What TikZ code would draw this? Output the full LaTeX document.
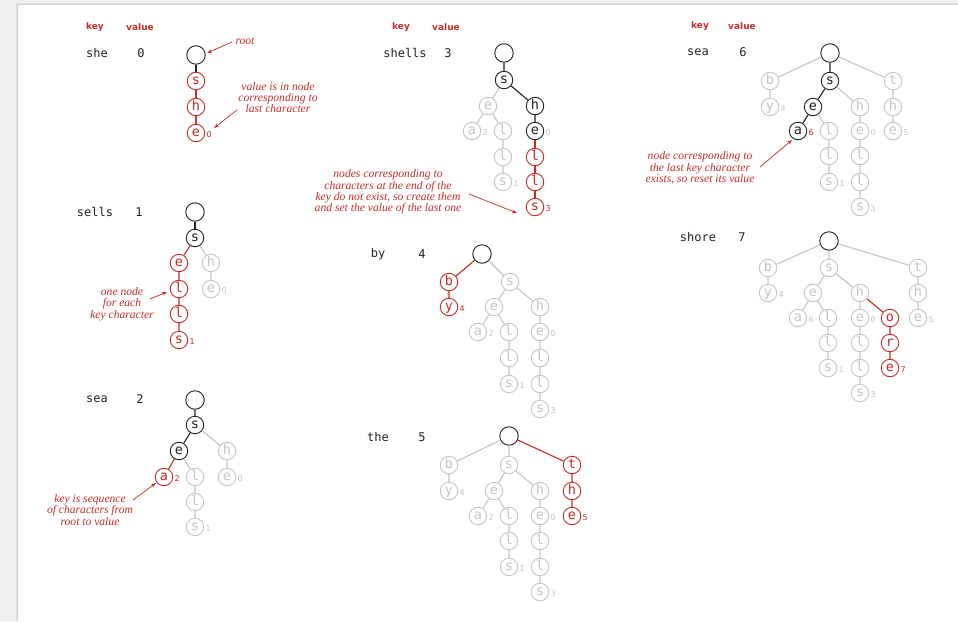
\documentclass[tikz,border=0pt]{standalone}
\usepackage{fontspec}
\setmainfont{Liberation Serif}
\newfontfamily\monof{DejaVu Sans Mono}
\newfontfamily\sansf{DejaVu Sans}
\usetikzlibrary{arrows.meta}
\definecolor{tred}{RGB}{200,45,40}
\definecolor{tgray}{RGB}{198,198,198}
\definecolor{tblk}{RGB}{35,35,35}
\definecolor{pagebg}{RGB}{240,240,240}
\definecolor{shadeA}{RGB}{226,226,226}
\definecolor{shadeB}{RGB}{210,210,210}
\tikzset{
 nd/.style={circle, minimum size=17.5pt, inner sep=0pt, line width=0.9pt, font=\monof\fontsize{13.5}{13.5}\selectfont, text height=7.3pt, text depth=0pt},
 nb/.style={nd, draw=tblk, text=tblk},
 ng/.style={nd, draw=tgray, text=tgray},
 nr/.style={nd, draw=tred, text=tred},
 rootnd/.style={circle, minimum size=18.5pt, inner sep=0pt, line width=0.9pt, draw=tblk},
 val/.style={inner sep=0pt, anchor=west, font=\sansf\fontsize{8}{8}\selectfont, text height=5.8pt, text depth=0pt},
 eb/.style={line width=1.1pt, draw=tblk},
 eg/.style={line width=1.1pt, draw=tgray},
 er/.style={line width=1.1pt, draw=tred},
 hdr/.style={font=\sansf\bfseries\fontsize{9}{9}\selectfont, text=tred, inner sep=0pt},
 keytxt/.style={font=\monof\fontsize{12}{12}\selectfont, text=tblk, inner sep=0pt},
 note/.style={font=\itshape\fontsize{11.6}{11.4}\selectfont, text=tred, align=center, inner sep=0pt},
 notearrow/.style={draw=tred, line width=0.7pt, -{Stealth[length=5pt,width=3.5pt]}},
}
\newcommand\trval{}
\renewcommand\trval[4]{\node[val,#1] (#2) at ([xshift=1.3pt,yshift=-1.2pt]#3.east) {#4};}
\begin{document}
\begin{tikzpicture}[x=1pt,y=-1pt]
\useasboundingbox (0,0) rectangle (958,621);
\fill[pagebg] (0,0) rectangle (958,621);
\fill[shadeA] (15.5,2.5) rectangle (958,621);
\fill[shadeB] (16.8,3.8) rectangle (958,621);
\fill[white] (18,5) rectangle (958,621);

% headers
\node[hdr] (hk1) at (95,27) {key};   \node[hdr] (hv1) at (140,27) {value};
\node[hdr] (hk2) at (401,27) {key};  \node[hdr] (hv2) at (446,27) {value};
\node[hdr] (hk3) at (700,26) {key};  \node[hdr] (hv3) at (742,26) {value};

% keys and values
\node[keytxt] (k1) at (97,53) {she};     \node[keytxt] (v1) at (141,53) {0};
\node[keytxt] (k2) at (95,212) {sells};  \node[keytxt] (v2) at (139,212) {1};
\node[keytxt] (k3) at (97,399) {sea};    \node[keytxt] (v3) at (140,399) {2};
\node[keytxt] (k4) at (405,53) {shells}; \node[keytxt] (v4) at (448,53) {3};
\node[keytxt] (k5) at (378,254) {by};    \node[keytxt] (v5) at (422,254) {4};
\node[keytxt] (k6) at (378,437) {the};   \node[keytxt] (v6) at (422,437) {5};
\node[keytxt] (k7) at (698,52) {sea};    \node[keytxt] (v7) at (743,52) {6};
\node[keytxt] (k8) at (698,237) {shore}; \node[keytxt] (v8) at (742,237) {7};

% ---- trie 1: she 0
\node[rootnd] (a0) at (196,55) {};
\node[nr] (a1) at (196,81) {s};
\node[nr] (a2) at (196,107) {h};
\node[nr] (a3) at (196,133) {e};
\trval{text=tred}{a3v}{a3}{0}
\draw[eb] (a0)--(a1);
\draw[er] (a1)--(a2) (a2)--(a3);

% ---- trie 2: sells 1
\node[rootnd] (b0) at (195,212) {};
\node[nb] (b1) at (195,238) {s};
\node[nr] (b2) at (179,263) {e};
\node[ng] (b3) at (211,263) {h};
\node[nr] (b4) at (179,289) {l};
\node[ng] (b5) at (211,289) {e};
\node[nr] (b6) at (179,314) {l};
\node[nr] (b7) at (179,340) {s};
\trval{text=tgray}{b5v}{b5}{0}
\trval{text=tred}{b7v}{b7}{1}
\draw[eb] (b0)--(b1);
\draw[er] (b1)--(b2) (b2)--(b4) (b4)--(b6) (b6)--(b7);
\draw[eg] (b1)--(b3) (b3)--(b5);

% ---- trie 3: sea 2
\node[rootnd] (c0) at (195,400) {};
\node[nb] (c1) at (195,425) {s};
\node[nb] (c2) at (179,451) {e};
\node[ng] (c3) at (227,451) {h};
\node[nr] (c4) at (164,477) {a};
\node[ng] (c5) at (195,477) {l};
\node[ng] (c6) at (227,477) {e};
\node[ng] (c7) at (195,502) {l};
\node[ng] (c8) at (195,527) {s};
\trval{text=tred}{c4v}{c4}{2}
\trval{text=tgray}{c6v}{c6}{0}
\trval{text=tgray}{c8v}{c8}{1}
\draw[eb] (c0)--(c1) (c1)--(c2);
\draw[er] (c2)--(c4);
\draw[eg] (c2)--(c5) (c5)--(c7) (c7)--(c8) (c1)--(c3) (c3)--(c6);

% ---- trie 4: shells 3
\node[rootnd] (d0) at (504,53) {};
\node[nb] (d1) at (504,80) {s};
\node[ng] (d2) at (488,106) {e};
\node[nb] (d3) at (535,106) {h};
\node[ng] (d4) at (472,131) {a};
\node[ng] (d5) at (503,131) {l};
\node[nb] (d6) at (535,131) {e};
\node[ng] (d7) at (503,157) {l};
\node[nr] (d8) at (535,157) {l};
\node[ng] (d9) at (503,182) {s};
\node[nr] (d10) at (535,182) {l};
\node[nr] (d11) at (535,207) {s};
\trval{text=tgray}{d4v}{d4}{2}
\trval{text=tgray}{d6v}{d6}{0}
\trval{text=tgray}{d9v}{d9}{1}
\trval{text=tred}{d11v}{d11}{3}
\draw[eb] (d0)--(d1) (d1)--(d3) (d3)--(d6);
\draw[er] (d6)--(d8) (d8)--(d10) (d10)--(d11);
\draw[eg] (d1)--(d2) (d2)--(d4) (d2)--(d5) (d5)--(d7) (d7)--(d9);

% ---- trie 5: by 4
\node[rootnd] (f0) at (482,254) {};
\node[nr] (f1) at (449,282) {b};
\node[ng] (f2) at (510,282) {s};
\node[nr] (f3) at (449,307) {y};
\node[ng] (f4) at (494,307) {e};
\node[ng] (f5) at (540,307) {h};
\node[ng] (f6) at (478,332) {a};
\node[ng] (f7) at (509,332) {l};
\node[ng] (f8) at (540,332) {e};
\node[ng] (f9) at (509,358) {l};
\node[ng] (f10) at (540,358) {l};
\node[ng] (f11) at (509,384) {s};
\node[ng] (f12) at (540,384) {l};
\node[ng] (f13) at (540,409) {s};
\trval{text=tred}{f3v}{f3}{4}
\trval{text=tgray}{f6v}{f6}{2}
\trval{text=tgray}{f8v}{f8}{0}
\trval{text=tgray}{f11v}{f11}{1}
\trval{text=tgray}{f13v}{f13}{3}
\draw[er] (f0)--(f1) (f1)--(f3);
\draw[eg] (f0)--(f2) (f2)--(f4) (f2)--(f5) (f4)--(f6) (f4)--(f7) (f7)--(f9) (f9)--(f11)
  (f5)--(f8) (f8)--(f10) (f10)--(f12) (f12)--(f13);

% ---- trie 6: the 5
\node[rootnd] (g0) at (509,436) {};
\node[ng] (g1) at (449,465) {b};
\node[ng] (g2) at (509,465) {s};
\node[nr] (g3) at (572,465) {t};
\node[ng] (g4) at (449,491) {y};
\node[ng] (g5) at (494,491) {e};
\node[ng] (g6) at (540,491) {h};
\node[nr] (g7) at (572,491) {h};
\node[ng] (g8) at (478,516) {a};
\node[ng] (g9) at (509,516) {l};
\node[ng] (g10) at (540,516) {e};
\node[nr] (g11) at (572,516) {e};
\node[ng] (g12) at (509,541) {l};
\node[ng] (g13) at (540,541) {l};
\node[ng] (g14) at (509,567) {s};
\node[ng] (g15) at (540,567) {l};
\node[ng] (g16) at (540,592) {s};
\trval{text=tgray}{g4v}{g4}{4}
\trval{text=tgray}{g8v}{g8}{2}
\trval{text=tgray}{g10v}{g10}{0}
\trval{text=tred}{g11v}{g11}{5}
\trval{text=tgray}{g14v}{g14}{1}
\trval{text=tgray}{g16v}{g16}{3}
\draw[er] (g0)--(g3) (g3)--(g7) (g7)--(g11);
\draw[eg] (g0)--(g1) (g0)--(g2) (g1)--(g4) (g2)--(g5) (g2)--(g6) (g5)--(g8) (g5)--(g9)
  (g9)--(g12) (g12)--(g14) (g6)--(g10) (g10)--(g13) (g13)--(g15) (g15)--(g16);

% ---- trie 7: sea 6
\node[rootnd] (h0) at (830,53) {};
\node[ng] (h1) at (770,81) {b};
\node[nb] (h2) at (830,81) {s};
\node[ng] (h3) at (893,81) {t};
\node[ng] (h4) at (770,107) {y};
\node[nb] (h5) at (813,107) {e};
\node[ng] (h6) at (860,107) {h};
\node[ng] (h7) at (893,107) {h};
\node[nb] (h8) at (798,131) {a};
\node[ng] (h9) at (829,131) {l};
\node[ng] (h10) at (860,131) {e};
\node[ng] (h11) at (893,131) {e};
\node[ng] (h12) at (829,156) {l};
\node[ng] (h13) at (860,156) {l};
\node[ng] (h14) at (829,182) {s};
\node[ng] (h15) at (860,182) {l};
\node[ng] (h16) at (860,207) {s};
\trval{text=tgray}{h4v}{h4}{4}
\trval{text=tred}{h8v}{h8}{6}
\trval{text=tgray}{h10v}{h10}{0}
\trval{text=tgray}{h11v}{h11}{5}
\trval{text=tgray}{h14v}{h14}{1}
\trval{text=tgray}{h16v}{h16}{3}
\draw[eb] (h0)--(h2) (h2)--(h5) (h5)--(h8);
\draw[eg] (h0)--(h1) (h0)--(h3) (h1)--(h4) (h2)--(h6) (h3)--(h7) (h7)--(h11) (h5)--(h9)
  (h9)--(h12) (h12)--(h14) (h6)--(h10) (h10)--(h13) (h13)--(h15) (h15)--(h16);

% ---- trie 8: shore 7
\node[rootnd] (k0) at (829,241) {};
\node[ng] (k1) at (768,268) {b};
\node[ng] (k2) at (829,268) {s};
\node[ng] (k3) at (918,268) {t};
\node[ng] (k4) at (768,293) {y};
\node[ng] (k5) at (813,293) {e};
\node[ng] (k6) at (860,293) {h};
\node[ng] (k7) at (918,293) {h};
\node[ng] (k8) at (798,318) {a};
\node[ng] (k9) at (828,318) {l};
\node[ng] (k10) at (860,318) {e};
\node[nr] (k11) at (890,318) {o};
\node[ng] (k12) at (918,318) {e};
\node[ng] (k13) at (828,343) {l};
\node[ng] (k14) at (860,343) {l};
\node[nr] (k15) at (890,343) {r};
\node[ng] (k16) at (828,368) {s};
\node[ng] (k17) at (860,368) {l};
\node[nr] (k18) at (890,368) {e};
\node[ng] (k19) at (860,393) {s};
\trval{text=tgray}{k4v}{k4}{4}
\trval{text=tgray}{k8v}{k8}{6}
\trval{text=tgray}{k10v}{k10}{0}
\trval{text=tgray}{k12v}{k12}{5}
\trval{text=tgray}{k16v}{k16}{1}
\trval{text=tred}{k18v}{k18}{7}
\trval{text=tgray}{k19v}{k19}{3}
\draw[er] (k6)--(k11) (k11)--(k15) (k15)--(k18);
\draw[eg] (k0)--(k1) (k0)--(k2) (k0)--(k3) (k1)--(k4) (k2)--(k5) (k2)--(k6) (k3)--(k7)
  (k7)--(k12) (k5)--(k8) (k5)--(k9) (k9)--(k13) (k13)--(k16) (k6)--(k10) (k10)--(k14)
  (k14)--(k17) (k17)--(k19);

% ---- annotations
\node[note] (n1) at (245,41) {root};
\coordinate (n1s) at (232,42); \coordinate (n1t) at (207,53);
\draw[notearrow] (n1s)--(n1t);

\node[note] (n2) at (278,97.5) {value is in node\\corresponding to\\last character};
\coordinate (n2s) at (237,110); \coordinate (n2t) at (214,128);
\draw[notearrow] (n2s)--(n2t);

\node[note] (n3) at (122,304) {one node\\for each\\key character};
\coordinate (n3s) at (150,299); \coordinate (n3t) at (167,292);
\draw[notearrow] (n3s)--(n3t);

\node[note] (n4) at (90,510) {key is sequence\\of characters from\\root to value};
\coordinate (n4s) at (133,500); \coordinate (n4t) at (156,483);
\draw[notearrow] (n4s)--(n4t);

\node[note] (n5) at (388,192) {nodes corresponding to\\characters at the end of the\\key do not exist, so create them\\and set the value of the last one};
\coordinate (n5s) at (469,194); \coordinate (n5t) at (517,213);
\draw[notearrow] (n5s)--(n5t);

\node[note] (n6) at (700,168) {node corresponding to\\the last key character\\exists, so reset its value};
\coordinate (n6s) at (760,167); \coordinate (n6t) at (792,140);
\draw[notearrow] (n6s)--(n6t);
\end{tikzpicture}
\end{document}
